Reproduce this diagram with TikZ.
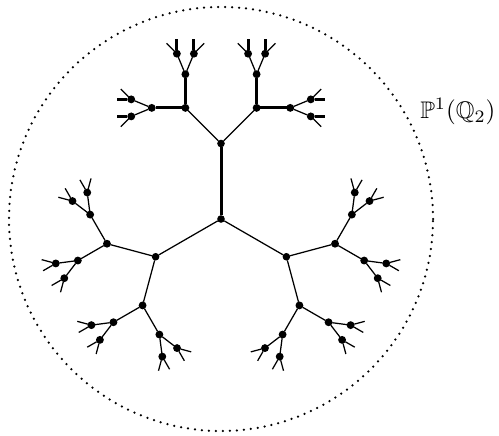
\documentclass[tikz,border=0pt]{standalone}
\usepackage{amsmath, amssymb}
\usepackage{tikz}
\usetikzlibrary{trees}
\tikzset{
  vtx/.style  ={draw, fill, circle, minimum size=2.6pt, inner sep=0pt},
  edg/.style  ={line width=0.5pt},
  axis/.style ={line width=1.2pt},                                   % axis-parallel edges
  bdry/.style ={line width=1pt, line cap=round, dash pattern=on 0pt off 2.8pt},
}
\begin{document}
\begin{tikzpicture}
  \useasboundingbox (-88.4pt,-86.4pt) rectangle (111.2pt,87.6pt);
  \draw[bdry] (0,0) circle (84.8pt);
  \node[vtx] (o) at (0,0) {}
    [grow cyclic, rotate=90, edge from parent/.style={draw, edg},
     level 1/.style={level distance=30.2pt, sibling angle=120},
     level 2/.style={level distance=20.15pt, sibling angle=90},
     level 3/.style={level distance=13.45pt, sibling angle=90},
     level 4/.style={level distance=8.9pt, sibling angle=45},
     level 5/.style={level distance=5.85pt, sibling angle=45}]
    child foreach \i in {1,2,3} {node[vtx] {}
      child foreach \j in {1,2} {node[vtx] {}
        child foreach \k in {1,2} {node[vtx] {}
          child foreach \m in {1,2} {node[vtx] {}
            child foreach \n in {1,2} {coordinate}}}}};
  % thick edges of the upper branch
  \draw[axis] (o) -- (o-2);
  \foreach \i in {1,2} \foreach \j in {1,2}
    \draw[axis] (o-2-\i) -- (o-2-\i-\j)
                (o-2-\i-\j-1) -- (o-2-\i-\j-1-2)
                (o-2-\i-\j-2) -- (o-2-\i-\j-2-1);
  \node[anchor=base west, inner sep=0pt, font=\fontsize{9.6}{11}\selectfont]
    (lbl) at (79.5pt,40.3pt) {$\mathbb{P}^1(\mathbb{Q}_2)$};
\end{tikzpicture}
\end{document}
